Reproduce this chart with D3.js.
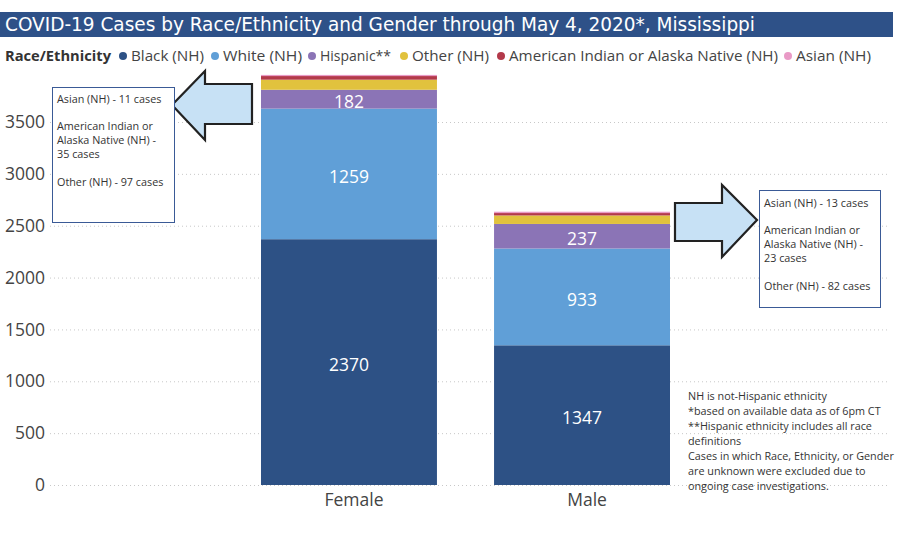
<!DOCTYPE html>
<html>
<head>
<meta charset="utf-8">
<script src="https://cdn.jsdelivr.net/npm/d3@7"></script>
<style>
  body { margin: 0; background: #fff; }
  svg { display: block; font-family: "Open Sans", "Noto Sans", sans-serif; }
</style>
</head>
<body>
<div id="chart"></div>
<script>
// data
var genders = ["Female", "Male"];
var groups = ["Black (NH)", "White (NH)", "Hispanic**", "Other (NH)", "American Indian or Alaska Native (NH)", "Asian (NH)"];
var femaleCases = [2370, 1259, 182, 97, 35, 11];
var maleCases = [1347, 933, 237, 82, 23, 13];
var yTicks = [0, 500, 1000, 1500, 2000, 2500, 3000, 3500];
var labelledGroups = ["Black (NH)", "White (NH)", "Hispanic**"];
var colors = ["#2d5185", "#609fd7", "#8b74b6", "#e1c23d", "#b3394a", "#e99ac6"];

var svgWidth = 900;
var svgHeight = 534;

var svg = d3.select("#chart").append("svg")
    .attr("width", svgWidth)
    .attr("height", svgHeight);

// build rows for the stack
var rows = genders.map(function(g, i) {
    var vals = i === 0 ? femaleCases : maleCases;
    var row = { gender: g };
    groups.forEach(function(k, j) { row[k] = vals[j]; });
    return row;
});

var xScale = d3.scaleBand().domain(genders).range([261, 670]).paddingInner(0.245).paddingOuter(0);
var yScale = d3.scaleLinear().domain([0, 3500]).range([485, 122]);
var color = d3.scaleOrdinal().domain(groups).range(colors);

// title bar
svg.append("rect")
    .attr("x", 0).attr("y", 12)
    .attr("width", 893).attr("height", 25)
    .attr("fill", "#2e5188");
svg.append("text")
    .attr("x", 5).attr("y", 31)
    .attr("fill", "#fff")
    .style("font-family", "'DejaVu Sans Condensed', 'DejaVu Sans', sans-serif")
    .style("font-size", "19px")
    .attr("textLength", 750)
    .attr("lengthAdjust", "spacingAndGlyphs")
    .text("COVID-19 Cases by Race/Ethnicity and Gender through May 4, 2020*, Mississippi");

// legend
var legend = svg.append("g").style("font-size", "14.5px");
legend.append("text")
    .attr("x", 5).attr("y", 61)
    .attr("fill", "#333")
    .style("font-weight", "bold")
    .attr("textLength", 106)
    .attr("lengthAdjust", "spacingAndGlyphs")
    .text("Race/Ethnicity");
var legendX = [123, 215, 312, 404, 501, 788];
var legendW = [73, 79, 71, 77, 269, 75];
groups.forEach(function(k, i) {
    legend.append("circle")
        .attr("cx", legendX[i]).attr("cy", 56)
        .attr("r", 4)
        .attr("fill", color(k));
    legend.append("text")
        .attr("x", legendX[i] + 8).attr("y", 61)
        .attr("fill", "#444")
        .attr("textLength", legendW[i])
        .attr("lengthAdjust", "spacingAndGlyphs")
        .text(k);
});

// gridlines
svg.append("g").selectAll("line")
    .data(yTicks)
    .enter()
    .append("line")
    .attr("x1", 50).attr("x2", 890)
    .attr("y1", d => yScale(d) + 0.5).attr("y2", d => yScale(d) + 0.5)
    .attr("stroke", "#c8c8c8")
    .attr("stroke-dasharray", "1,3");

// y axis labels
var leftAxis = d3.axisLeft(yScale).tickValues(yTicks).tickFormat(d3.format("d")).tickSize(0).tickPadding(0);
var yAxis = svg.append("g").attr("transform", "translate(45,0)").call(leftAxis);
yAxis.select(".domain").remove();
yAxis.selectAll("text")
    .attr("fill", "#444")
    .style("font-size", "17.5px")
    .style("font-family", "'Open Sans', sans-serif");

// x axis labels (sit a few px right of bar centre, as in the source)
var bottomAxis = d3.axisBottom(xScale).tickSize(0).tickPadding(9);
var xAxis = svg.append("g").attr("transform", "translate(5,485)").call(bottomAxis);
xAxis.select(".domain").remove();
xAxis.selectAll("text")
    .attr("fill", "#444")
    .style("font-size", "17.5px")
    .style("font-family", "'Open Sans', sans-serif");

// stacked bars
var series = d3.stack().keys(groups)(rows);
var layers = svg.append("g").selectAll("g")
    .data(series)
    .enter()
    .append("g")
    .attr("fill", d => color(d.key));

layers.selectAll("rect")
    .data(d => d)
    .enter()
    .append("rect")
    .attr("x", d => xScale(d.data.gender))
    .attr("width", xScale.bandwidth())
    .attr("y", d => yScale(d[1]))
    .attr("height", d => yScale(d[0]) - yScale(d[1]));

// value labels
series.filter(s => labelledGroups.indexOf(s.key) >= 0).forEach(function(s) {
    svg.append("g").selectAll("text")
        .data(s)
        .enter()
        .append("text")
        .attr("x", d => xScale(d.data.gender) + xScale.bandwidth() / 2)
        .attr("y", d => yScale((d[0] + d[1]) / 2))
        .attr("dy", "0.5em")
        .attr("text-anchor", "middle")
        .attr("fill", "#fff")
        .style("font-size", "17.5px")
        .text(d => d[1] - d[0]);
});

// arrows
function arrow(points) {
    svg.append("polygon")
        .attr("points", points.map(p => p.join(",")).join(" "))
        .attr("fill", "#c7e1f5")
        .attr("stroke", "#222")
        .attr("stroke-width", 2.2)
        .attr("stroke-linejoin", "miter");
}
arrow([[172, 105], [205, 71], [205, 84], [252, 84], [252, 124], [205, 124], [205, 140]]);
arrow([[757, 220], [722, 185], [722, 203], [675, 203], [675, 241], [722, 241], [722, 257]]);

// note boxes
function noteBox(x, y, w, h, lines) {
    svg.append("rect")
        .attr("x", x + 0.5).attr("y", y + 0.5)
        .attr("width", w).attr("height", h)
        .attr("fill", "#fff")
        .attr("stroke", "#3a5a96")
        .attr("stroke-width", 1);
    lines.forEach(function(l) {
        svg.append("text")
            .attr("x", x + 5).attr("y", l[1])
            .attr("fill", "#333")
            .style("font-size", "10.8px")
            .text(l[0]);
    });
}
noteBox(52, 87, 122, 135, [
    ["Asian (NH) - 11 cases", 103],
    ["American Indian or", 130],
    ["Alaska Native (NH) -", 144],
    ["35 cases", 158],
    ["Other (NH) - 97 cases", 186]
]);
noteBox(759, 190, 121, 117, [
    ["Asian (NH) - 13 cases", 207],
    ["American Indian or", 234],
    ["Alaska Native (NH) -", 248],
    ["23 cases", 262],
    ["Other (NH) - 82 cases", 290]
]);

// footnotes
var footnotes = [
    "NH is not-Hispanic ethnicity",
    "*based on available data as of 6pm CT",
    "**Hispanic ethnicity includes all race",
    "definitions",
    "Cases in which Race, Ethnicity, or Gender",
    "are unknown were excluded due to",
    "ongoing case investigations."
];
svg.append("g").selectAll("text")
    .data(footnotes)
    .enter()
    .append("text")
    .attr("x", 688)
    .attr("y", (d, i) => 400 + i * 15)
    .attr("fill", "#333")
    .style("font-size", "10.8px")
    .text(d => d);
</script>
</body>
</html>
